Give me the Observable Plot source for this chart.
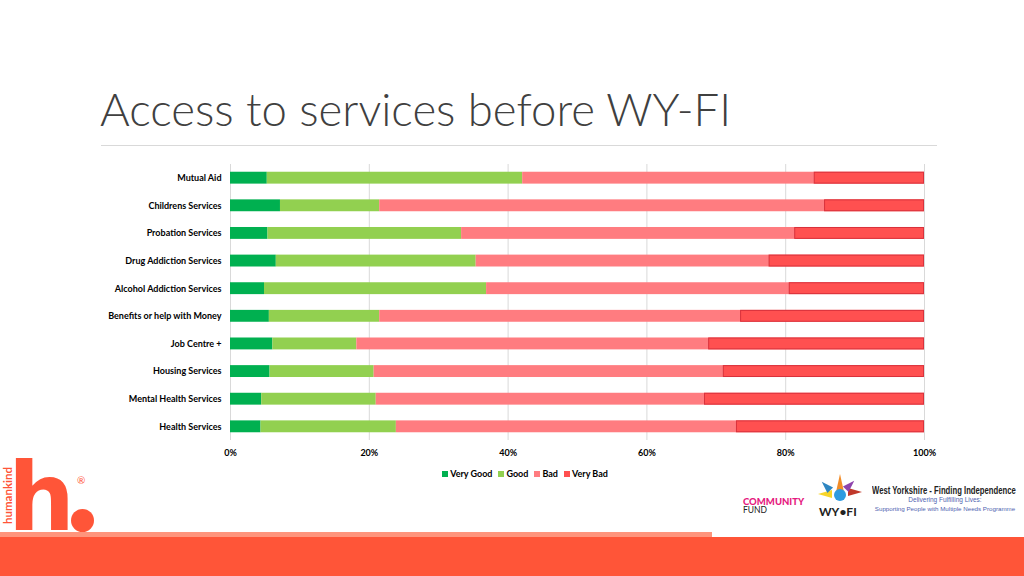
<!DOCTYPE html>
<html>
<head>
<meta charset="utf-8">
<script src="https://cdn.jsdelivr.net/npm/d3@7"></script>
<script src="https://cdn.jsdelivr.net/npm/@observablehq/plot@0.6"></script>
<style>
  html, body { margin: 0; padding: 0; background: #fff; }
  #page { position: relative; width: 1024px; height: 576px; overflow: hidden; background: #fff; font-family: Lato, "Open Sans", sans-serif; }
  #title { position: absolute; left: 100px; top: 86px; font-size: 45.5px; font-weight: 300; color: #404040; white-space: nowrap; line-height: 1; }
  #rule { position: absolute; left: 101px; top: 145px; width: 836px; height: 1px; background: #d9d9d9; }
  #chart { position: absolute; left: 0; top: 150px; }
  #legend { position: absolute; left: 0; width: 1050px; top: 468px; display: flex; justify-content: center; gap: 6px; font-size: 9px; font-weight: 700; color: #000; }
  #legend span.item { display: flex; align-items: center; gap: 2px; }
  #legend i { display: inline-block; width: 6px; height: 6px; }
  #band1 { position: absolute; left: 0; top: 532px; width: 712px; height: 5px; background: #FF947C; }
  #band2 { position: absolute; left: 0; top: 537px; width: 1024px; height: 39px; background: #FF5538; }
  .abs { position: absolute; white-space: nowrap; line-height: 1; }
  .tri { position: absolute; width: 0; height: 0; }
</style>
</head>
<body>
<div id="page">
  <div id="title">Access to services before WY-FI</div>
  <div id="rule"></div>
  <div id="chart"></div>
  <div id="legend"></div>

  <!-- humankind logo -->
  <div class="abs" style="left:8px; top:451px; font-size:94px; font-weight:700; color:#FF5538; font-family:'DejaVu Sans', sans-serif;">h</div>
  <div class="abs" style="left:71px; top:509px; width:23px; height:23px; border-radius:50%; background:#FF5538;"></div>
  <div class="abs" style="left:77px; top:475px; font-size:10px; color:#FF5538;">®</div>
  <div class="abs" style="left:-28px; top:490px; width:70px; height:11px; text-align:center; font-size:11.5px; font-weight:700; color:#FF5538; transform: rotate(-90deg); transform-origin: center;">humankind</div>

  <!-- partner logos -->
  <div class="abs" style="left:743px; top:497px; font-size:9.5px; font-weight:900; color:#E5197E;">COMMUNITY</div>
  <div class="abs" style="left:743px; top:506px; font-size:8.5px; color:#222;">FUND</div>
  <div class="tri" style="left:836px; top:474px; border-left:4px solid transparent; border-right:4px solid transparent; border-bottom:18px solid #F28C28;"></div>
  <div class="tri" style="left:818px; top:490px; border-top:4px solid transparent; border-bottom:4px solid transparent; border-right:14px solid #F7D52A;"></div>
  <div class="tri" style="left:848px; top:488px; border-top:4px solid transparent; border-bottom:4px solid transparent; border-left:14px solid #C0392B;"></div>
  <div class="tri" style="left:822px; top:480px; border-left:4px solid transparent; border-right:4px solid transparent; border-bottom:12px solid #2E86C1; transform: rotate(-45deg);"></div>
  <div class="tri" style="left:846px; top:479px; border-left:4px solid transparent; border-right:4px solid transparent; border-bottom:12px solid #8E44AD; transform: rotate(45deg);"></div>
  <div class="abs" style="left:834px; top:489px; width:12px; height:12px; border-radius:50%; background:#2E9BE0;"></div>
  <div class="abs" style="left:819px; top:506px; font-size:12px; font-weight:700; color:#222;">WY•FI</div>
  <div class="abs" style="left:872px; top:486px; font-size:10px; font-weight:700; color:#222; font-family:'Liberation Sans',sans-serif; transform: scaleX(0.77); transform-origin: left center;">West Yorkshire - Finding Independence</div>
  <div class="abs" style="left:0px; width:1890px; top:497px; text-align:center; font-size:6.5px; color:#4F63B0; font-family:'Liberation Sans',sans-serif;">Delivering Fulfilling Lives:</div>
  <div class="abs" style="left:0px; width:1890px; top:506px; text-align:center; font-size:6.2px; color:#4F63B0; font-family:'Liberation Sans',sans-serif;">Supporting People with Multiple Needs Programme</div>

  <div id="band1"></div>
  <div id="band2"></div>
</div>
<script>
const categories = [
  "Mutual Aid",
  "Childrens Services",
  "Probation Services",
  "Drug Addiction Services",
  "Alcohol Addiction Services",
  "Benefits or help with Money",
  "Job Centre +",
  "Housing Services",
  "Mental Health Services",
  "Health Services"
];
const veryGood = [5.3, 7.2, 5.4, 6.6, 4.9, 5.6, 6.1, 5.7, 4.5, 4.4];
const good     = [36.8, 14.3, 27.9, 28.8, 32.0, 15.9, 12.1, 15.0, 16.5, 19.5];
const bad      = [42.0, 64.1, 48.0, 42.2, 43.6, 52.0, 50.7, 50.3, 47.3, 49.0];
const veryBad  = [15.9, 14.4, 18.7, 22.4, 19.5, 26.5, 31.1, 29.0, 31.7, 27.1];
const ratings  = ["Very Good", "Good", "Bad", "Very Bad"];
const colors   = ["#00B050", "#92D050", "#FF7C80", "#FF5050"];
const xTicks   = [0, 0.2, 0.4, 0.6, 0.8, 1];

const series = [veryGood, good, bad, veryBad];
const data = categories.flatMap((c, i) =>
  ratings.map((r, j) => ({ service: c, rating: r, value: series[j][i] }))
);
const totals = categories.map((c, i) => series.reduce((s, a) => s + a[i], 0));
const vbData = categories.map((c, i) => ({ service: c, share: veryBad[i] / totals[i] }));

const chart = Plot.plot({
  width: 1024,
  height: 320,
  marginLeft: 230,
  marginRight: 100,
  marginTop: 14,
  marginBottom: 30,
  style: { fontFamily: "Lato, 'Open Sans', sans-serif", fontSize: "9px", color: "#000", background: "transparent" },
  x: { domain: [0, 1] },
  y: { domain: categories, paddingInner: 0.57, paddingOuter: 0.28, round: false },
  color: { domain: ratings, range: colors },
  marks: [
    Plot.ruleX(xTicks, { stroke: "#d9d9d9", strokeWidth: 1 }),
    Plot.barX(data, Plot.stackX({ x: "value", y: "service", fill: "rating", order: ratings, offset: "normalize" })),
    Plot.barX(vbData, { x1: d => 1 - d.share, x2: 1, y: "service", fill: "none", stroke: "#D9323C", strokeWidth: 1, inset: 0.5 }),
    Plot.axisY({ tickSize: 0, tickPadding: 9, fontWeight: 700, label: null }),
    Plot.axisX({ ticks: xTicks, tickFormat: d3.format(".0%"), tickSize: 0, tickPadding: 9, fontWeight: 700, label: null })
  ]
});
document.getElementById("chart").appendChild(chart);

const legend = document.getElementById("legend");
ratings.forEach((r, j) => {
  const s = document.createElement("span");
  s.className = "item";
  s.innerHTML = `<i style="background:${colors[j]}"></i>${r}`;
  legend.appendChild(s);
});
</script>
</body>
</html>
